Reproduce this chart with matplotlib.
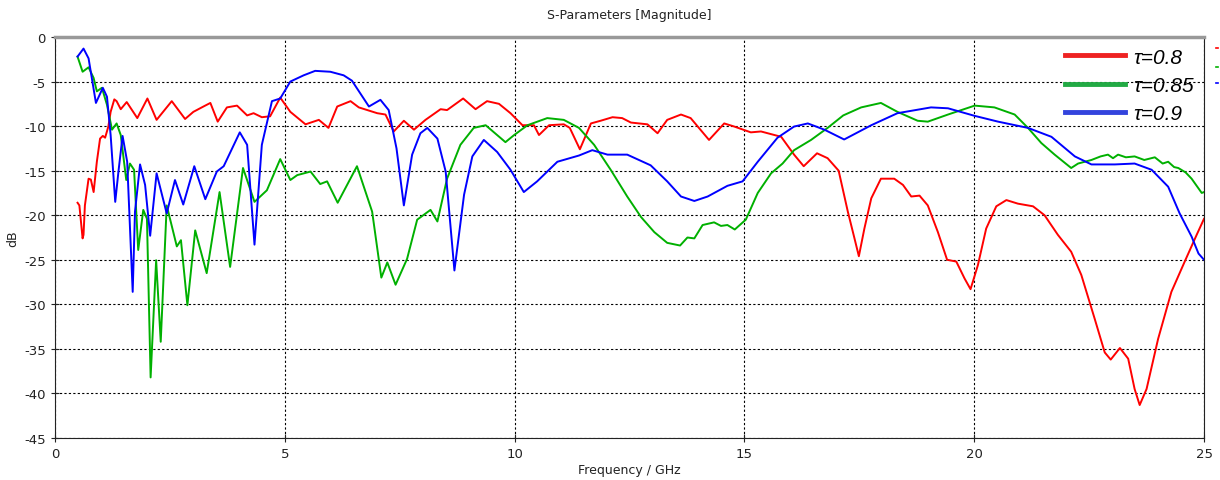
# S-parameter magnitude comparison for three tau values
import matplotlib
matplotlib.use('Agg')
import matplotlib.pyplot as plt
from matplotlib.lines import Line2D

plt.rcParams['axes.unicode_minus'] = False

# values (GHz, dB)
f_08 = [0.49, 0.53, 0.60, 0.62, 0.65, 0.73, 0.78, 0.84, 0.91, 0.98, 1.04, 1.09, 1.16, 1.21, 1.29, 1.34,
        1.43, 1.56, 1.79, 2.01, 2.21, 2.54, 2.83, 3.01, 3.23, 3.38, 3.54, 3.74, 3.96, 4.18, 4.32, 4.50,
        4.68, 4.90, 5.12, 5.45, 5.74, 5.95, 6.14, 6.43, 6.61, 7.01, 7.19, 7.37, 7.59, 7.81, 8.06, 8.39,
        8.53, 8.88, 9.15, 9.40, 9.66, 9.91, 10.17, 10.42, 10.53, 10.75, 11.07, 11.2, 11.42, 11.66, 11.87,
        12.13, 12.34, 12.53, 12.89, 13.11, 13.32, 13.62, 13.83, 14.23, 14.56, 14.78, 15.14, 15.36, 15.80,
        16.08, 16.29, 16.58, 16.81, 17.05, 17.25, 17.39, 17.49, 17.61, 17.76, 17.97, 18.26, 18.45, 18.63,
        18.81, 18.99, 19.21, 19.41, 19.61, 19.79, 19.92, 20.08, 20.26, 20.48, 20.70, 20.95, 21.28, 21.53,
        21.82, 22.11, 22.33, 22.62, 22.84, 22.97, 23.17, 23.35, 23.49, 23.60, 23.75, 24.00, 24.29, 24.58,
        24.84, 25.0]
s_08 = [-18.6, -18.9, -22.6, -22.2, -18.9, -15.9, -16.0, -17.4, -14.0, -11.4, -11.1, -11.3, -10.05, -8.4,
        -7.0, -7.2, -8.1, -7.3, -9.1, -6.9, -9.3, -7.2, -9.2, -8.4, -7.8, -7.4, -9.5, -7.9, -7.7, -8.8,
        -8.55, -9.0, -8.9, -6.8, -8.4, -9.8, -9.3, -10.2, -7.8, -7.2, -7.9, -8.55, -8.7, -10.6, -9.4,
        -10.4, -9.3, -8.1, -8.2, -6.9, -8.1, -7.2, -7.5, -8.55, -9.9, -9.9, -11.0, -9.9, -9.8, -10.2,
        -12.6, -9.7, -9.4, -9.0, -9.1, -9.6, -9.8, -10.8, -9.3, -8.7, -9.1, -11.55, -9.7, -10.05, -10.7,
        -10.6, -11.2, -13.2, -14.5, -13.05, -13.6, -15.0, -19.6, -22.5, -24.6, -21.5, -18.1, -15.9, -15.9,
        -16.6, -17.9, -17.8, -18.9, -21.9, -25.0, -25.2, -27.1, -28.3, -25.6, -21.5, -19.0, -18.3, -18.7,
        -19.0, -20.0, -22.2, -24.1, -26.7, -31.6, -35.4, -36.2, -34.9, -36.1, -39.5, -41.3, -39.5, -33.9,
        -28.6, -25.2, -22.2, -20.4]

f_085 = [0.49, 0.60, 0.73, 0.84, 0.91, 1.02, 1.13, 1.24, 1.34, 1.43, 1.55, 1.63, 1.72, 1.81, 1.92, 2.00,
         2.08, 2.20, 2.30, 2.43, 2.65, 2.74, 2.88, 3.05, 3.30, 3.58, 3.81, 4.09, 4.34, 4.61, 4.90, 5.12,
         5.27, 5.56, 5.77, 5.92, 6.15, 6.57, 6.90, 7.10, 7.23, 7.41, 7.66, 7.88, 8.17, 8.32, 8.53, 8.82,
         9.11, 9.37, 9.80, 9.99, 10.28, 10.71, 11.07, 11.40, 11.73, 12.09, 12.45, 12.75, 13.04, 13.32,
         13.60, 13.76, 13.91, 14.09, 14.34, 14.49, 14.63, 14.79, 15.03, 15.29, 15.58, 15.83, 16.08, 16.45,
         16.81, 17.15, 17.54, 17.97, 18.33, 18.77, 18.99, 19.43, 20.01, 20.44, 20.88, 21.17, 21.46, 21.75,
         22.11, 22.26, 22.55, 22.75, 22.91, 23.02, 23.13, 23.3, 23.49, 23.7, 23.93, 24.1, 24.22, 24.35,
         24.44, 24.6, 24.73, 24.95, 25.0]
s_085 = [-2.2, -3.9, -3.4, -4.6, -6.1, -5.7, -7.6, -10.4, -9.7, -11.0, -16.05, -14.2, -14.9, -23.9, -19.4,
         -20.4, -38.2, -25.05, -34.2, -18.9, -23.5, -22.8, -30.1, -21.7, -26.5, -17.4, -25.8, -14.7, -18.5,
         -17.2, -13.7, -16.05, -15.5, -15.1, -16.5, -16.2, -18.6, -14.5, -19.6, -27.0, -25.3, -27.8, -24.9,
         -20.5, -19.4, -20.7, -15.9, -12.1, -10.2, -9.9, -11.8, -11.0, -9.9, -9.1, -9.3, -10.2, -12.1,
         -14.9, -17.9, -20.2, -21.9, -23.1, -23.4, -22.5, -22.6, -21.1, -20.8, -21.2, -21.1, -21.6, -20.5,
         -17.5, -15.3, -14.2, -12.7, -11.55, -10.2, -8.8, -7.9, -7.4, -8.4, -9.4, -9.5, -8.7, -7.7, -7.9,
         -8.7, -10.2, -11.9, -13.2, -14.7, -14.2, -13.8, -13.4, -13.2, -13.6, -13.2, -13.5, -13.4, -13.8,
         -13.5, -14.2, -14.0, -14.6, -14.7, -15.2, -15.9, -17.5, -17.4]

f_09 = [0.49, 0.62, 0.73, 0.89, 1.04, 1.13, 1.21, 1.31, 1.38, 1.47, 1.57, 1.69, 1.74, 1.85, 1.96, 2.07,
        2.21, 2.43, 2.61, 2.79, 3.03, 3.27, 3.52, 3.67, 4.02, 4.18, 4.34, 4.50, 4.72, 4.90, 5.12, 5.41,
        5.66, 5.99, 6.28, 6.46, 6.83, 7.08, 7.26, 7.43, 7.59, 7.77, 7.95, 8.10, 8.32, 8.50, 8.69, 8.90,
        9.08, 9.33, 9.62, 9.91, 10.20, 10.49, 10.93, 11.40, 11.69, 12.02, 12.45, 12.96, 13.32, 13.62,
        13.91, 14.20, 14.63, 14.96, 15.29, 15.72, 16.08, 16.38, 16.74, 17.17, 17.76, 18.33, 19.06, 19.43,
        20.01, 20.52, 21.17, 21.68, 22.19, 22.55, 23.06, 23.49, 23.86, 24.22, 24.47, 24.73, 24.88, 25.0]
s_09 = [-2.2, -1.3, -2.4, -7.4, -5.7, -6.7, -11.0, -18.5, -15.1, -11.1, -14.0, -28.6, -19.6, -14.3, -16.6,
        -22.3, -15.3, -19.8, -16.05, -18.8, -14.5, -18.2, -15.1, -14.5, -10.7, -12.1, -23.3, -12.1, -7.2,
        -6.9, -5.0, -4.3, -3.8, -3.9, -4.3, -4.9, -7.8, -7.05, -8.2, -12.5, -18.9, -13.2, -10.8, -10.2,
        -11.4, -15.1, -26.2, -17.7, -13.4, -11.55, -12.9, -14.9, -17.4, -16.2, -14.0, -13.3, -12.7, -13.2,
        -13.2, -14.4, -16.2, -17.9, -18.4, -17.9, -16.7, -16.2, -14.0, -11.3, -10.05, -9.7, -10.4, -11.5,
        -9.9, -8.55, -7.9, -8.0, -8.85, -9.5, -10.2, -11.2, -13.4, -14.3, -14.3, -14.2, -14.9, -16.8,
        -19.8, -22.4, -24.3, -25.0]

labels = ['τ=0.8', 'τ=0.85', 'τ=0.9']
colors = ['#ff0000', '#00b000', '#0000ff']
leg_colors = ['#ee2222', '#22aa44', '#3344dd']

fig = plt.figure(figsize=(12.2, 4.81), dpi=100)
ax = fig.add_axes([0.0451, 0.0873, 0.9418, 0.8337])

for f, s, c in [(f_08, s_08, colors[0]), (f_085, s_085, colors[1]), (f_09, s_09, colors[2])]:
    ax.plot(f, s, color=c, lw=1.4)

ax.set_xlim(0, 25)
ax.set_ylim(-45, 0)
ax.set_xticks(range(0, 26, 5))
ax.set_yticks(range(-45, 1, 5))
ax.grid(True, color='black', ls=(0, (2, 2)), lw=0.8)
ax.tick_params(direction='inout', length=6, labelsize=9.5, colors='#222222')
for side in ['left', 'bottom', 'right']:
    ax.spines[side].set_color('#222222')
ax.spines['top'].set_color('#999999')
ax.spines['top'].set_linewidth(2.5)

ax.set_title('S-Parameters [Magnitude]', fontsize=9, pad=14, color='#222222')
ax.set_xlabel('Frequency / GHz', fontsize=9, labelpad=2, color='#222222')
ax.set_ylabel('dB', fontsize=9, color='#222222')
ax.yaxis.set_label_coords(-0.031, 0.5)

handles = [Line2D([0], [0], color=c, lw=3.5) for c in leg_colors]
ax.legend(handles, labels, loc='upper right', bbox_to_anchor=(1.004, 1.01), frameon=False,
          handlelength=2.9, handletextpad=0.4, labelspacing=0.45, borderaxespad=0.3,
          prop={'family': 'Liberation Sans', 'size': 15, 'style': 'italic'})

# tiny clipped marks right of the frame
for y, c in zip([0.898, 0.858, 0.825], colors):
    fig.add_artist(Line2D([0.9965, 0.9985], [y, y], color=c, lw=1.2))

fig.savefig('out.png', dpi=100)
